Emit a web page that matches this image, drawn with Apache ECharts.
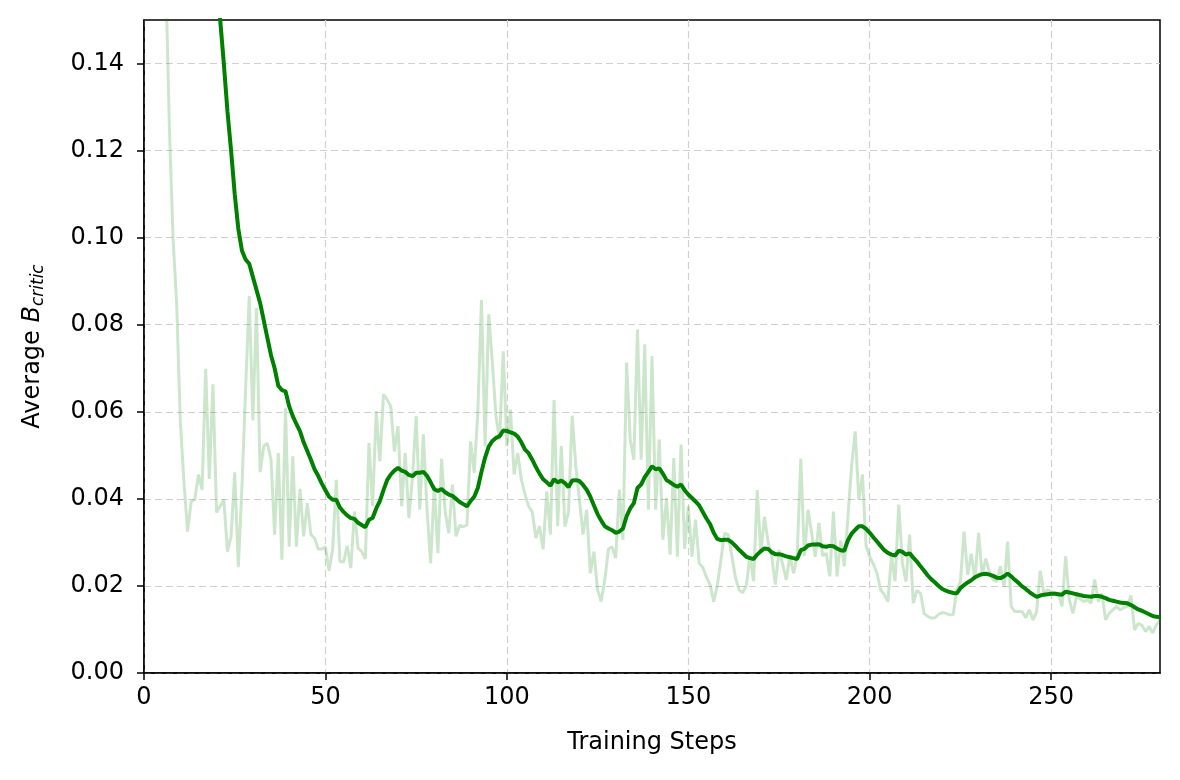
<!DOCTYPE html>
<html>
<head>
<meta charset="utf-8">
<script src="https://cdn.jsdelivr.net/npm/echarts@6/dist/echarts.min.js"></script>
<style>
html,body{margin:0;padding:0;background:#fff;}
#chart{width:1180px;height:780px;}
</style>
</head>
<body>
<div id="chart"></div>
<script>
// Raw per-step Average B_critic (steps 0..280)
var rawValues = [
0.50,0.42,0.35,0.28,0.23,0.19,0.16,0.125,0.100,0.085,
0.058,0.044,0.0325,0.0394,0.0398,0.0456,0.0421,0.0699,0.0446,0.0663,
0.0369,0.0383,0.0398,0.0279,0.0314,0.0461,0.0243,0.0429,0.0651,0.0866,
0.058,0.0839,0.0461,0.0521,0.0528,0.049,0.0318,0.0505,0.026,0.0609,
0.029,0.0498,0.029,0.0423,0.0314,0.039,0.0318,0.031,0.0285,0.0285,
0.029,0.0235,0.0284,0.0444,0.0256,0.0255,0.0292,0.0241,0.0371,0.0287,
0.0279,0.0262,0.0528,0.0383,0.0601,0.0486,0.064,0.0628,0.0613,0.0509,
0.0567,0.0383,0.0505,0.0356,0.045,0.059,0.0375,0.0548,0.0375,0.0252,
0.0429,0.0275,0.0492,0.037,0.0321,0.0433,0.0314,0.034,0.0336,0.034,
0.0532,0.046,0.0598,0.0857,0.0521,0.0824,0.0713,0.059,0.0536,0.0739,
0.0521,0.0605,0.0456,0.0505,0.0444,0.041,0.0383,0.037,0.031,0.0337,
0.0284,0.0417,0.0318,0.0627,0.0337,0.0521,0.0336,0.037,0.0591,0.0475,
0.0398,0.0318,0.0375,0.0229,0.0279,0.0191,0.0164,0.0214,0.0285,0.029,
0.0264,0.0421,0.0306,0.0713,0.0536,0.049,0.0789,0.049,0.0755,0.0375,
0.0728,0.0375,0.0536,0.0306,0.0402,0.0272,0.0494,0.0267,0.0525,0.0285,
0.0383,0.0267,0.0352,0.0252,0.0243,0.022,0.0203,0.0164,0.0201,0.026,
0.0321,0.0318,0.0269,0.022,0.0191,0.0184,0.0201,0.0269,0.0211,0.042,
0.0275,0.0359,0.030,0.0267,0.0203,0.0283,0.025,0.0214,0.0269,0.0229,
0.0267,0.0492,0.0269,0.0375,0.0321,0.0267,0.0345,0.0269,0.0275,0.0222,
0.0371,0.0222,0.0304,0.0245,0.0359,0.0475,0.0555,0.0398,0.0456,0.0291,
0.0267,0.025,0.0229,0.0191,0.018,0.0164,0.0269,0.0211,0.0387,0.0252,
0.021,0.0318,0.016,0.019,0.0183,0.0137,0.013,0.0126,0.0127,0.0135,
0.0139,0.0137,0.0134,0.0134,0.0191,0.021,0.0325,0.0225,0.0274,0.0214,
0.0322,0.0225,0.0263,0.0231,0.0214,0.021,0.0245,0.0198,0.0302,0.0153,
0.0141,0.0141,0.0141,0.0127,0.0145,0.0122,0.0141,0.0235,0.0183,0.0191,
0.0187,0.0185,0.0183,0.0153,0.0268,0.0168,0.0137,0.0176,0.017,0.0164,
0.0168,0.016,0.0215,0.0164,0.0183,0.0122,0.0137,0.0145,0.0153,0.0145,
0.015,0.0153,0.0178,0.0099,0.0114,0.011,0.0095,0.0107,0.0092,0.011,
0.0122
];
// Smoothed Average B_critic (steps 0..280)
var smoothValues = [
0.60,0.58,0.56,0.54,0.52,0.50,0.48,0.46,0.44,0.41,
0.38,0.35,0.32,0.29,0.265,0.243,0.222,0.205,0.19,0.175,
0.162,0.150,0.140,0.129,0.120,0.110,0.102,0.097,0.095,0.094,
0.091,0.088,0.085,0.081,0.077,0.073,0.070,0.066,0.065,0.0647,
0.0613,0.059,0.0572,0.0555,0.053,0.051,0.049,0.0468,0.0453,0.0435,
0.042,0.0405,0.0398,0.0398,0.038,0.037,0.0362,0.0356,0.0354,0.0345,
0.034,0.0335,0.0352,0.0356,0.0378,0.0395,0.042,0.0443,0.0456,0.0465,
0.0471,0.0465,0.0462,0.0455,0.0452,0.046,0.046,0.0462,0.0453,0.0438,
0.0422,0.0418,0.0423,0.0415,0.041,0.0407,0.040,0.0393,0.0388,0.0383,
0.0395,0.0405,0.0425,0.0462,0.0495,0.052,0.0533,0.054,0.0544,0.0557,
0.0556,0.0553,0.055,0.0543,0.053,0.0513,0.0505,0.049,0.0473,0.0458,
0.0445,0.0438,0.043,0.0445,0.0438,0.0442,0.0436,0.0427,0.0442,0.0443,
0.0441,0.0432,0.0421,0.0405,0.0385,0.0365,0.035,0.0337,0.0332,0.0328,
0.0322,0.0325,0.0332,0.036,0.0378,0.039,0.0425,0.0433,0.045,0.0462,
0.0475,0.0468,0.047,0.0458,0.0443,0.0438,0.0432,0.0428,0.0433,0.042,
0.041,0.0402,0.0394,0.0385,0.037,0.0355,0.0342,0.0322,0.0308,0.0305,
0.0306,0.0306,0.030,0.0292,0.0283,0.0275,0.0267,0.0264,0.0262,0.0272,
0.028,0.0286,0.0285,0.0277,0.0273,0.0273,0.0271,0.0268,0.0266,0.0264,
0.0262,0.0282,0.0285,0.0293,0.0295,0.0295,0.0296,0.0291,0.029,0.0292,
0.0291,0.0286,0.0282,0.0281,0.0305,0.032,0.0329,0.0337,0.0337,0.0331,
0.0322,0.0312,0.0302,0.0292,0.0282,0.0276,0.0272,0.027,0.0281,0.0278,
0.0272,0.0275,0.0265,0.0256,0.0245,0.0235,0.0224,0.0215,0.0208,0.020,
0.0193,0.0189,0.0186,0.0184,0.0183,0.0195,0.0202,0.0208,0.0213,0.022,
0.0224,0.0227,0.0228,0.0226,0.0223,0.0219,0.0218,0.0222,0.0228,0.0222,
0.0214,0.0207,0.0199,0.0193,0.0186,0.018,0.0175,0.0178,0.018,0.0181,
0.0182,0.0182,0.0181,0.018,0.0187,0.0185,0.0183,0.0181,0.0179,0.0177,
0.0176,0.0175,0.0177,0.0177,0.0175,0.0172,0.0168,0.0166,0.0164,0.0162,
0.0161,0.016,0.0156,0.0151,0.0146,0.0143,0.0139,0.0135,0.0131,0.0129,
0.0128
];
var xTickLabels = [0, 50, 100, 150, 200, 250];
var yTickLabels = [0.00, 0.02, 0.04, 0.06, 0.08, 0.10, 0.12, 0.14];

var rawData = rawValues.map(function (v, i) { return [i, v]; });
var smoothData = smoothValues.map(function (v, i) { return [i, v]; });

var FONT = 'DejaVu Sans';
var FS = 24;
var chart = echarts.init(document.getElementById('chart'), null, {renderer: 'canvas'});
chart.setOption({
  animation: false,
  backgroundColor: '#ffffff',
  grid: {left: 144, right: 20, top: 20, bottom: 107, show: true, borderColor: '#000', borderWidth: 1.5, backgroundColor: 'transparent'},
  xAxis: {
    type: 'value', min: 0, max: 280, interval: 50,
    name: 'Training Steps', nameLocation: 'middle', nameGap: 58,
    nameTextStyle: {fontFamily: FONT, fontSize: FS, color: '#000'},
    axisLine: {show: true, onZero: false, lineStyle: {color: '#000', width: 1.5}},
    axisTick: {show: true, inside: false, length: 7, lineStyle: {color: '#000', width: 1.5}, customValues: xTickLabels},
    axisLabel: {fontFamily: FONT, fontSize: FS, color: '#000', margin: 13, customValues: xTickLabels},
    splitLine: {show: true, lineStyle: {color: '#d0d0d0', width: 1.2, type: [7, 4]}}
  },
  yAxis: {
    type: 'value', min: 0, max: 0.15, interval: 0.02,
    name: 'Average {i|B}{s|critic}', nameLocation: 'middle', nameGap: 97, nameRotate: 90,
    nameTextStyle: {fontFamily: FONT, fontSize: FS, color: '#000',
      rich: {
        i: {fontFamily: FONT, fontSize: FS, fontStyle: 'italic', color: '#000'},
        s: {fontFamily: FONT, fontSize: 17, fontStyle: 'italic', color: '#000', verticalAlign: 'bottom', padding: [11, 0, 0, 0]}
      }},
    axisLine: {show: true, onZero: false, lineStyle: {color: '#000', width: 1.5}},
    axisTick: {show: true, inside: false, length: 7, lineStyle: {color: '#000', width: 1.5}, customValues: yTickLabels},
    axisLabel: {fontFamily: FONT, fontSize: FS, color: '#000', margin: 20, customValues: yTickLabels,
      formatter: function (v) { return v.toFixed(2); }},
    splitLine: {show: true, lineStyle: {color: '#d0d0d0', width: 1.2, type: [7, 4]}}
  },
  series: [
    {type: 'line', data: rawData, showSymbol: false, clip: true, z: 2,
     lineStyle: {color: 'green', width: 3, opacity: 0.2}},
    {type: 'line', data: smoothData, showSymbol: false, clip: true, z: 3,
     lineStyle: {color: 'green', width: 4}}
  ]
});
</script>
</body>
</html>
